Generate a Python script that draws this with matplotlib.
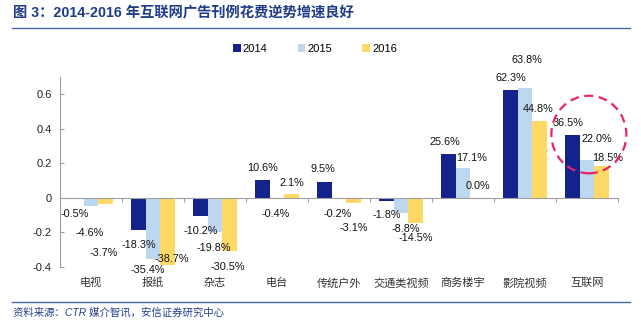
import matplotlib
matplotlib.use("Agg")
import matplotlib.pyplot as plt
import numpy as np
from matplotlib.patches import Ellipse
from matplotlib.transforms import blended_transform_factory

plt.rcParams['font.family'] = ['Liberation Sans', 'Noto Sans CJK SC', 'DejaVu Sans']

categories = ["电视", "报纸", "杂志", "电台", "传统户外", "交通类视频", "商务楼宇", "影院视频", "互联网"]
years = ["2014", "2015", "2016"]
v2014 = [-0.005, -0.183, -0.102, 0.106, 0.095, -0.018, 0.256, 0.623, 0.365]
v2015 = [-0.046, -0.354, -0.198, -0.004, -0.002, -0.088, 0.171, 0.638, 0.220]
v2016 = [-0.037, -0.387, -0.305, 0.021, -0.031, -0.145, 0.000, 0.448, 0.185]
yticks = [-0.4, -0.2, 0, 0.2, 0.4, 0.6]
ytick_labels = ["-0.4", "-0.2", "0", "0.2", "0.4", "0.6"]
title = "图 3：2014-2016 年互联网广告刊例花费逆势增速良好"
source = "资料来源：CTR 媒介智讯，安信证券研究中心"

colors = ["#14238C", "#BDD7EE", "#FFD966"]
# label offsets in pixels (dx, dy) relative to bar end
offsets = [
    [(-1.5, -15), (-1, -27), (-1.5, -49)],
    [(0, -15), (-5, -11), (4.5, 6)],
    [(0, -15.5), (-1, -16), (-1.5, -16)],
    [(0, 12), (-1, -15), (0, 11)],
    [(-1.5, 13), (-1, -16), (0, -25)],
    [(0, -14), (5, -16), (0, -15)],
    [(-3.5, 12), (9, 10), (0, 12)],
    [(0, 12), (2, 27.5), (-1.5, 12)],
    [(-4.5, 12), (10, 21), (6.5, 8)],
]

fig = plt.figure(figsize=(6.41, 3.23), dpi=100)
ax = fig.add_axes([60/641, 1-267/323, 558/641, 190/323])

x = np.arange(len(categories))
w = 0.235
series = [v2014, v2015, v2016]
for j, (vals, c, yr) in enumerate(zip(series, colors, years)):
    xs = x + (j - 1) * w
    ax.bar(xs, vals, width=w, color=c, label=yr, zorder=2)
    for i, v in enumerate(vals):
        dx, dy = offsets[i][j]
        ax.annotate(f"{v*100:.1f}%", xy=(xs[i], v), xytext=(dx, dy),
                    textcoords="offset pixels", ha="center", va="center",
                    fontsize=7.8, color="#111111", annotation_clip=False, zorder=4)

ax.set_xlim(-0.5, len(categories) - 0.5)
ax.set_ylim(-0.4, 0.7)
ax.set_yticks(yticks)
ax.set_yticklabels(ytick_labels, fontsize=8, color="#222222")
ax.tick_params(axis="y", direction="in", length=3, color="#A0A0A0", pad=6)

for s in ["top", "right"]:
    ax.spines[s].set_visible(False)
ax.spines["left"].set_color("#A0A0A0")
ax.spines["left"].set_linewidth(0.8)
ax.spines["bottom"].set_position(("data", 0))
ax.spines["bottom"].set_color("#A0A0A0")
ax.spines["bottom"].set_linewidth(0.8)
ax.spines["bottom"].set_zorder(3)
ax.set_xticks(np.arange(0.5, len(categories), 1.0))
ax.set_xticklabels([])
ax.tick_params(axis="x", direction="out", length=3, color="#A0A0A0")

trans = blended_transform_factory(ax.transData, ax.transAxes)
for i, c in enumerate(categories):
    ax.text(i, -0.085, c, transform=trans, ha="center", va="center",
            fontsize=8, family=["Noto Sans CJK SC"], color="#333333")

ell = Ellipse((8.03, 0.367), width=75/62, height=77/171.5, fill=False,
              edgecolor="#E8246E", linestyle=(0, (4, 2.5)), linewidth=1.6,
              clip_on=False, zorder=5)
ax.add_patch(ell)

leg = fig.legend(loc="center", bbox_to_anchor=(315/641, 1-49/323), ncol=3,
                 frameon=False, fontsize=8, handlelength=0.7, handleheight=0.7,
                 handletextpad=0.2, columnspacing=2.7)

fig.text(13/641, 1-13/323, title, fontsize=10.3, fontweight="bold",
         color="#1F3C88", ha="left", va="center",
         family=["Liberation Sans", "Noto Sans CJK SC"])
fig.add_artist(plt.Line2D([12/641, 630/641], [1-28/323, 1-28/323],
                          color="#4A66A8", linewidth=1.0))
fig.add_artist(plt.Line2D([12/641, 630/641], [1-302/323, 1-302/323],
                          color="#4A66A8", linewidth=1.0))
fig.text(13/641, 1-313/323, source, fontsize=7.5, style="italic",
         color="#24408E", ha="left", va="center",
         family=["Liberation Sans", "Noto Sans CJK SC"])

fig.savefig("out.png", dpi=100)
